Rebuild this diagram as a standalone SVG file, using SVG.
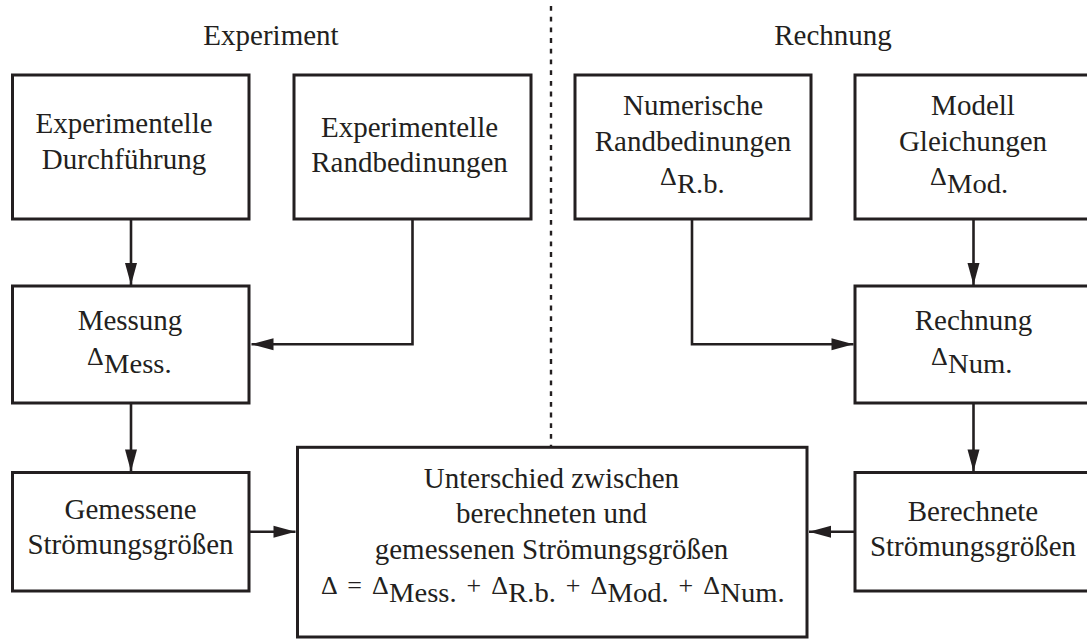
<svg xmlns="http://www.w3.org/2000/svg" width="1087" height="639" viewBox="0 0 1087 639">
<style>
text{font-family:"Liberation Serif","Times New Roman",serif;fill:#231f20}
.t{font-size:29px;text-anchor:middle}
.d{font-size:26px}
.o{font-size:26px}
.s{font-size:26.5px}
.box{fill:#fff;stroke:#231f20;stroke-width:3}
.c{fill:none;stroke:#231f20;stroke-width:2.6;marker-end:url(#ah)}
.dash{fill:none;stroke:#231f20;stroke-width:2.4;stroke-dasharray:4.8 5.9}
</style>
<defs>
<marker id="ah" markerUnits="userSpaceOnUse" markerWidth="23" markerHeight="12" refX="22" refY="6" orient="auto" overflow="visible">
<path d="M0,0 L22,6 L0,12 Z" fill="#231f20"/>
</marker>
</defs>
<rect width="1087" height="639" fill="#fff"/>
<line class="dash" x1="551" y1="6" x2="551" y2="446"/>
<text class="t" x="271" y="45">Experiment</text>
<text class="t" x="833" y="45">Rechnung</text>
<g id="exp-durch">
<rect class="box" x="12.5" y="75" width="236.5" height="144"/>
<text class="t" x="124" y="133">Experimentelle</text>
<text class="t" x="124" y="169">Durchführung</text>
</g>
<g id="exp-rand">
<rect class="box" x="294" y="75" width="237" height="144"/>
<text class="t" x="409.5" y="137">Experimentelle</text>
<text class="t" x="409.5" y="172">Randbedinungen</text>
</g>
<g id="num-rand">
<rect class="box" x="575" y="75" width="236" height="144"/>
<text class="t" x="693" y="115">Numerische</text>
<text class="t" x="693" y="151">Randbedinungen</text>
<text class="d" x="660" y="185">Δ</text>
<text class="s" transform="translate(677 193) scale(1.08 1)">R.b.</text>
</g>
<g id="modell">
<rect class="box" x="855" y="75" width="240" height="144"/>
<text class="t" x="973" y="115">Modell</text>
<text class="t" x="973" y="151">Gleichungen</text>
<text class="d" x="930" y="185">Δ</text>
<text class="s" transform="translate(947 193) scale(1.08 1)">Mod.</text>
</g>
<g id="messung">
<rect class="box" x="12.5" y="286" width="236.5" height="117"/>
<text class="t" x="130" y="330">Messung</text>
<text class="d" x="87" y="365">Δ</text>
<text class="s" transform="translate(104 373) scale(1.08 1)">Mess.</text>
</g>
<g id="rechnung">
<rect class="box" x="855" y="286" width="240" height="117"/>
<text class="t" x="973.5" y="330">Rechnung</text>
<text class="d" x="931" y="365">Δ</text>
<text class="s" transform="translate(948 373) scale(1.08 1)">Num.</text>
</g>
<g id="gemessene">
<rect class="box" x="12.5" y="472.5" width="236.5" height="118.5"/>
<text class="t" x="130.5" y="519">Gemessene</text>
<text class="t" x="130.5" y="554">Strömungsgrößen</text>
</g>
<g id="berechnete">
<rect class="box" x="855" y="472.5" width="240" height="118.5"/>
<text class="t" x="973" y="521">Berechnete</text>
<text class="t" x="973" y="556">Strömungsgrößen</text>
</g>
<g id="unterschied">
<rect class="box" x="297.5" y="447.3" width="509.5" height="189.7"/>
<text class="t" x="551.5" y="488">Unterschied zwischen</text>
<text class="t" x="551.5" y="523">berechneten und</text>
<text class="t" x="551.5" y="559">gemessenen Strömungsgrößen</text>
<text class="d" x="321" y="594">Δ</text>
<text class="o" x="347.2" y="594">=</text>
<text class="d" x="372" y="594">Δ</text>
<text class="s" transform="translate(389 602) scale(1.08 1)">Mess.</text>
<text class="o" x="466.5" y="594">+</text>
<text class="d" x="491.2" y="594">Δ</text>
<text class="s" transform="translate(508.2 602) scale(1.08 1)">R.b.</text>
<text class="o" x="565.8" y="594">+</text>
<text class="d" x="590.5" y="594">Δ</text>
<text class="s" transform="translate(607.5 602) scale(1.08 1)">Mod.</text>
<text class="o" x="678.6" y="594">+</text>
<text class="d" x="703.3" y="594">Δ</text>
<text class="s" transform="translate(720.3 602) scale(1.08 1)">Num.</text>
</g>
<g id="connectors">
<path class="c" d="M131,219 L131,285"/>
<path class="c" d="M412.5,219 L412.5,344.3 L251.5,344.3"/>
<path class="c" d="M131,403 L131,471.5"/>
<path class="c" d="M249,531.7 L295.5,531.7"/>
<path class="c" d="M692,219 L692,344.3 L853.5,344.3"/>
<path class="c" d="M973.5,219 L973.5,285"/>
<path class="c" d="M973.5,403 L973.5,471.5"/>
<path class="c" d="M855,531.7 L809,531.7"/>
</g>
</svg>
